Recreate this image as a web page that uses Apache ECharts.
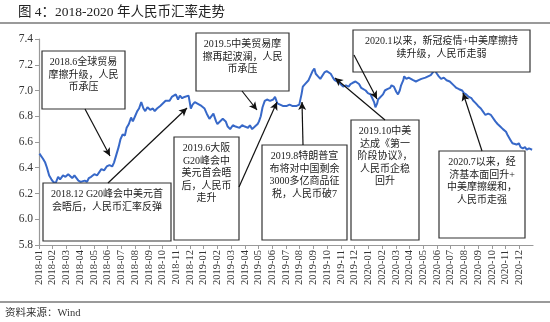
<!DOCTYPE html>
<html><head><meta charset="utf-8">
<script src="https://cdn.jsdelivr.net/npm/echarts@6/dist/echarts.min.js"></script>
<style>html,body{margin:0;padding:0;background:#fff}#c{width:550px;height:322px}</style>
</head><body><div id="c"></div>
<script>
var monthLabels = ['2018-01','2018-02','2018-03','2018-04','2018-05','2018-06','2018-07','2018-08','2018-09','2018-10','2018-11','2018-12',
'2019-01','2019-02','2019-03','2019-04','2019-05','2019-06','2019-07','2019-08','2019-09','2019-10','2019-11','2019-12',
'2020-01','2020-02','2020-03','2020-04','2020-05','2020-06','2020-07','2020-08','2020-09','2020-10','2020-11','2020-12'];
var yTicks = [5.8, 6.0, 6.2, 6.4, 6.6, 6.8, 7.0, 7.2, 7.4];
var dates = ['2018-01-02','2018-01-05','2018-01-10','2018-01-15','2018-01-19','2018-01-24','2018-01-29','2018-02-02','2018-02-07','2018-02-12','2018-02-16','2018-02-22','2018-02-27',
'2018-03-05','2018-03-09','2018-03-14','2018-03-19','2018-03-23','2018-03-28','2018-04-02','2018-04-06','2018-04-11','2018-04-16','2018-04-20','2018-04-25',
'2018-05-02','2018-05-08','2018-05-14','2018-05-18','2018-05-24','2018-05-30','2018-06-05','2018-06-11','2018-06-15','2018-06-20','2018-06-25','2018-06-29',
'2018-07-04','2018-07-09','2018-07-13','2018-07-18','2018-07-23','2018-07-27','2018-08-01','2018-08-06','2018-08-10','2018-08-15','2018-08-20','2018-08-24','2018-08-29',
'2018-09-04','2018-09-10','2018-09-14','2018-09-19','2018-09-26','2018-10-08','2018-10-12','2018-10-17','2018-10-22','2018-10-26','2018-10-31',
'2018-11-05','2018-11-09','2018-11-14','2018-11-19','2018-11-23','2018-11-28','2018-12-03','2018-12-07','2018-12-12','2018-12-17','2018-12-21','2018-12-27',
'2019-01-03','2019-01-08','2019-01-14','2019-01-18','2019-01-23','2019-01-29','2019-02-01','2019-02-12','2019-02-18','2019-02-22','2019-02-27',
'2019-03-05','2019-03-11','2019-03-15','2019-03-20','2019-03-26','2019-04-01','2019-04-08','2019-04-12','2019-04-17','2019-04-23','2019-04-29',
'2019-05-02','2019-05-06','2019-05-10','2019-05-15','2019-05-20','2019-05-27','2019-06-03','2019-06-07','2019-06-12','2019-06-18','2019-06-24','2019-06-28',
'2019-07-03','2019-07-09','2019-07-15','2019-07-19','2019-07-25','2019-07-31','2019-08-05','2019-08-08','2019-08-13','2019-08-16','2019-08-21','2019-08-26','2019-08-30',
'2019-09-03','2019-09-06','2019-09-11','2019-09-16','2019-09-20','2019-09-25','2019-09-30','2019-10-09','2019-10-14','2019-10-18','2019-10-23','2019-10-28',
'2019-11-01','2019-11-06','2019-11-12','2019-11-18','2019-11-22','2019-11-27','2019-12-03','2019-12-06','2019-12-11','2019-12-16','2019-12-20','2019-12-26','2019-12-31',
'2020-01-06','2020-01-10','2020-01-14','2020-01-17','2020-01-21','2020-01-23','2020-02-03','2020-02-07','2020-02-12','2020-02-18','2020-02-21','2020-02-26',
'2020-03-02','2020-03-06','2020-03-10','2020-03-13','2020-03-18','2020-03-20','2020-03-25','2020-03-30','2020-04-03','2020-04-09','2020-04-15','2020-04-21','2020-04-27',
'2020-05-06','2020-05-12','2020-05-18','2020-05-22','2020-05-27','2020-06-01','2020-06-05','2020-06-10','2020-06-16','2020-06-22','2020-06-29',
'2020-07-03','2020-07-08','2020-07-14','2020-07-20','2020-07-27','2020-07-31','2020-08-05','2020-08-11','2020-08-17','2020-08-21','2020-08-27',
'2020-09-01','2020-09-07','2020-09-11','2020-09-17','2020-09-23','2020-09-29','2020-10-09','2020-10-14','2020-10-20','2020-10-26',
'2020-11-02','2020-11-06','2020-11-11','2020-11-16','2020-11-20','2020-11-25','2020-11-30','2020-12-04','2020-12-09','2020-12-14','2020-12-18','2020-12-23','2020-12-30'];
var rates = [6.51,6.50,6.47,6.44,6.40,6.34,6.31,6.29,6.28,6.33,6.31,6.34,6.33,
6.35,6.34,6.32,6.34,6.33,6.30,6.29,6.28,6.30,6.29,6.32,6.33,
6.35,6.34,6.37,6.39,6.38,6.41,6.42,6.41,6.44,6.50,6.56,6.62,
6.66,6.65,6.71,6.74,6.79,6.76,6.80,6.84,6.86,6.91,6.86,6.84,6.87,
6.85,6.86,6.84,6.86,6.88,6.92,6.93,6.92,6.95,6.96,6.97,
6.93,6.96,6.94,6.95,6.94,6.96,6.86,6.89,6.91,6.90,6.91,6.88,
6.86,6.82,6.78,6.79,6.82,6.76,6.74,6.78,6.76,6.72,6.70,
6.73,6.72,6.72,6.71,6.73,6.72,6.71,6.73,6.70,6.72,6.74,
6.76,6.80,6.87,6.92,6.93,6.92,6.93,6.95,6.90,6.89,6.88,6.87,
6.88,6.89,6.88,6.87,6.88,6.89,6.97,7.03,7.05,7.04,7.08,7.12,7.15,
7.17,7.13,7.11,7.09,7.10,7.14,7.15,7.13,7.10,7.08,7.07,7.06,
7.05,7.03,7.04,7.03,7.05,7.06,7.07,7.06,7.05,7.02,7.01,7.00,6.98,
6.97,6.94,6.91,6.87,6.90,6.93,6.97,7.00,7.01,7.02,7.04,7.03,
6.99,6.97,7.00,7.04,7.08,7.11,7.09,7.10,7.09,7.08,7.07,7.08,7.09,
7.10,7.11,7.12,7.13,7.16,7.13,7.11,7.09,7.10,7.08,7.07,
7.06,7.04,7.02,7.01,7.00,6.98,6.97,6.95,6.94,6.92,6.90,
6.88,6.86,6.84,6.81,6.82,6.81,6.76,6.74,6.72,6.70,
6.68,6.65,6.62,6.59,6.60,6.58,6.59,6.56,6.55,6.56,6.54,6.55,6.54];

function monthPos(s) {
  var p = s.split('-'), y = +p[0], m = +p[1], d = +p[2];
  var dim = new Date(y, m, 0).getDate();
  return (y - 2018) * 12 + (m - 1) + (d - 1) / dim;
}
var seriesData = dates.map(function (d, i) { return [monthPos(d), rates[i]]; });

var SERIF = '"Liberation Serif","Noto Sans CJK SC",serif';
var boxes = [
  {x:42, y:51, w:83, h:58, text:'2018.6全球贸易\n摩擦升级，人民\n币承压'},
  {x:43, y:183, w:128, h:58, text:'2018.12 G20峰会中美元首\n会晤后，人民币汇率反弹'},
  {x:196, y:33, w:93, h:58, text:'2019.5中美贸易摩\n擦再起波澜，人民\n币承压'},
  {x:174, y:137, w:65, h:103, text:'2019.6大阪\nG20峰会中\n美元首会晤\n后，人民币\n走升'},
  {x:262, y:145, w:85, h:95, text:'2019.8特朗普宣\n布将对中国剩余\n3000多亿商品征\n税，人民币破7'},
  {x:351, y:120, w:68, h:120, text:'2019.10中美\n达成《第一\n阶段协议》，\n人民币企稳\n回升'},
  {x:353, y:30, w:177, h:42, text:'2020.1以来，新冠疫情+中美摩擦持\n续升级，人民币走弱'},
  {x:439, y:151, w:86, h:87, text:'2020.7以来，经\n济基本面回升+\n中美摩擦缓和，\n人民币走强'}
];
var arrows = [
  [85,109,110,156],[108,183,187,108],[242,91,257,110],[239,187,277,102],
  [303,145,302,102],[385,120,335,78],[354,55,377,99],[482,151,463,93]
];

var graphics = [
  {type:'line', shape:{x1:0,y1:23,x2:550,y2:23}, style:{stroke:'#9a9a9a', lineWidth:2}, z:10},
  {type:'line', shape:{x1:0,y1:302,x2:550,y2:302}, style:{stroke:'#9a9a9a', lineWidth:2}, z:10},
  {type:'text', x:5, y:313, style:{text:'资料来源：Wind', font:'10.5px ' + SERIF, fill:'#333', verticalAlign:'middle'}, z:10}
];
boxes.forEach(function (b) {
  graphics.push({type:'rect', shape:{x:b.x, y:b.y, width:b.w, height:b.h}, style:{fill:'#fff', stroke:'#333', lineWidth:1.2}, z:20});
  graphics.push({type:'text', x:b.x + b.w / 2, y:b.y + 5, style:{text:b.text, font:'10px ' + SERIF, fill:'#222', align:'center', verticalAlign:'top', lineHeight:12.6}, z:21});
});

var chart = echarts.init(document.getElementById('c'), null, {renderer:'canvas'});
chart.setOption({
  animation:false,
  backgroundColor:'#fff',
  title:{text:'图 4：2018-2020 年人民币汇率走势', left:13, top:1, textStyle:{fontSize:13.5, fontWeight:'normal', color:'#222', fontFamily:SERIF}},
  grid:{left:39, right:17, top:39, bottom:77, containLabel:false},
  xAxis:{type:'value', min:0, max:36, interval:1,
    axisLine:{lineStyle:{color:'#999', width:1.2}},
    axisTick:{show:true, length:4, lineStyle:{color:'#999'}},
    splitLine:{show:false},
    axisLabel:{rotate:90, margin:5, fontSize:10.5, color:'#333', fontFamily:SERIF, showMaxLabel:false,
      formatter:function (v) { return monthLabels[Math.round(v)] || ''; }}},
  yAxis:{type:'value', min:yTicks[0], max:yTicks[yTicks.length-1], interval:0.2,
    axisLine:{show:true, lineStyle:{color:'#999', width:1.2}},
    axisTick:{show:true, length:4, lineStyle:{color:'#999'}},
    splitLine:{show:false},
    axisLabel:{margin:6, fontSize:11.5, color:'#333', fontFamily:SERIF,
      formatter:function (v) { return v.toFixed(1); }}},
  series:[{
    type:'line', data:seriesData, showSymbol:false, symbol:'none',
    lineStyle:{color:'#3768c8', width:2}, z:5,
    markLine:{silent:true, symbol:['none','arrow'], symbolSize:[6,8], animation:false,
      label:{show:false}, lineStyle:{color:'#111', width:1.2, type:'solid'}, z:30,
      emphasis:{disabled:true},
      data: arrows.map(function (a) { return [{x:a[0], y:a[1]}, {x:a[2], y:a[3]}]; })}
  }],
  graphic: graphics
});
</script></body></html>
